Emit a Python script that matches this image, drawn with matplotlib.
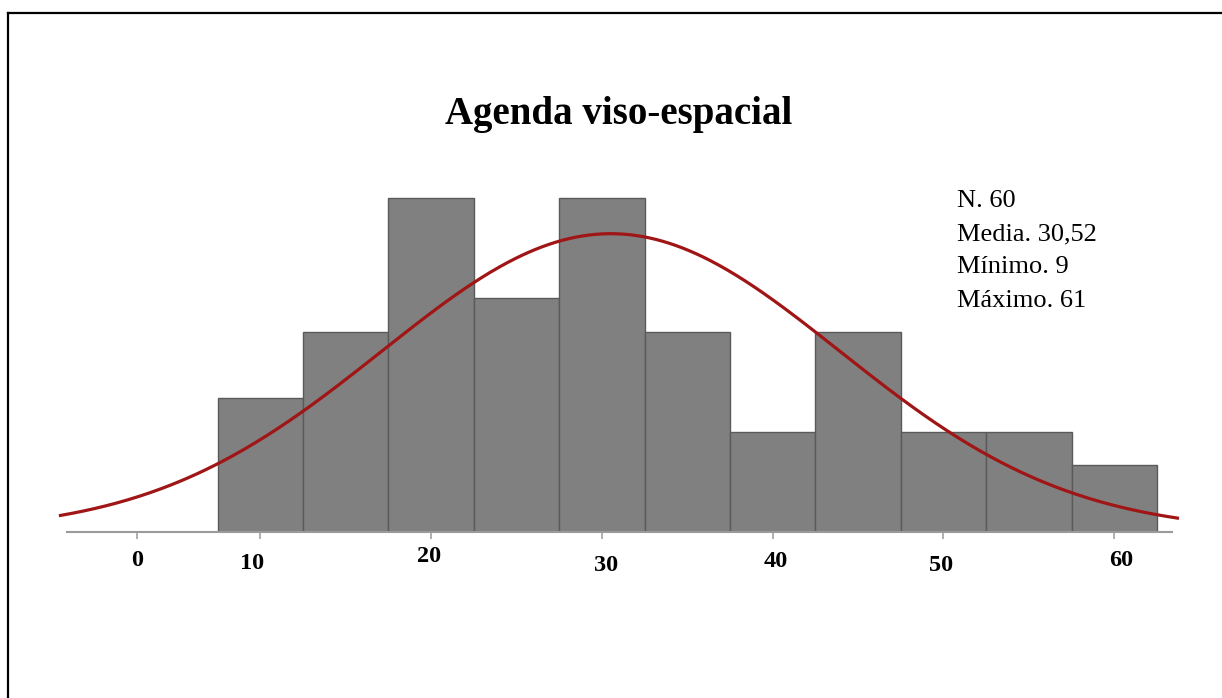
"""
Histograma de la agenda viso-espacial con curva normal ajustada
"""
import numpy as np
import matplotlib
matplotlib.use("Agg")
import matplotlib.pyplot as plt
from matplotlib.lines import Line2D
from matplotlib.transforms import ScaledTranslation

# Datos
bin_edges = [7.5, 12.5, 17.5, 22.5, 27.5, 32.5, 37.5, 42.5, 47.5, 52.5, 57.5, 62.5]
counts = [4, 6, 10, 7, 10, 6, 3, 6, 3, 3, 2]
n_total = 60
media = 30.52
desv = 13.4
minimo = 9
maximo = 61
tick_pos = [2.8, 10, 20, 30, 40, 50, 60]
tick_labels = ["0", "10", "20", "30", "40", "50", "60"]
titulo = "Agenda viso-espacial"
stats_lines = [f"N. {n_total}", "Media. 30,52", f"Mínimo. {minimo}", f"Máximo. {maximo}"]

W, H = 1222, 698
SERIF = ["Liberation Serif", "DejaVu Serif"]


def px_x(x):
    return x / W


def px_y(y):
    return 1 - y / H


fig = plt.figure(figsize=(W / 100, H / 100), dpi=100)
ax = fig.add_axes([px_x(40), px_y(532), 1140 / W, 382 / H])

# Barras del histograma
lefts = np.array(bin_edges[:-1])
widths = np.diff(bin_edges)
ax.bar(lefts, counts, width=widths, align="edge", color="#808080",
       edgecolor="#5a5a5a", linewidth=1.0, zorder=2)

# Curva normal ajustada
xs = np.linspace(-1.7, 63.7, 500)
bw = widths[0]
ys = n_total * bw / (desv * np.sqrt(2 * np.pi)) * np.exp(-0.5 * ((xs - media) / desv) ** 2)
ax.plot(xs, ys, color="#a01515", linewidth=2.3, zorder=3)

ax.set_xlim(-2.9, 63.85)
ax.set_ylim(0, 382 / 33.4)

for s in ["top", "right", "left"]:
    ax.spines[s].set_visible(False)
ax.spines["bottom"].set_bounds(-1.32, 63.4)
ax.spines["bottom"].set_color("#9a9a9a")
ax.spines["bottom"].set_linewidth(1.5)
ax.set_yticks([])

ax.set_xticks(tick_pos)
ax.set_xticklabels(tick_labels, fontfamily=SERIF, fontweight="bold", fontsize=17.5)
ax.tick_params(axis="x", direction="out", length=5, width=1.1, color="#9a9a9a", pad=9)

# pequeños desplazamientos de las etiquetas como en la imagen original
dx_px = [0, -8, -2, 4, 3, -2, 7]
dy_px = [-1, 2, -5, 4, 0, 4, -1]
for lab, dx, dy in zip(ax.get_xticklabels(), dx_px, dy_px):
    lab.set_transform(lab.get_transform() + ScaledTranslation(dx / 100, -dy / 100, fig.dpi_scale_trans))

# Titulo y estadisticos
fig.text(px_x(619), px_y(124), titulo, ha="center", va="baseline",
         fontfamily=SERIF, fontweight="bold", fontsize=28)
baselines = [206.7, 240, 272.7, 306.7]
for line, yb in zip(stats_lines, baselines):
    fig.text(px_x(957), px_y(yb), line, ha="left", va="baseline",
             fontfamily=SERIF, fontsize=19)

# Marco exterior (izquierda y arriba)
fig.add_artist(Line2D([px_x(8), px_x(8)], [0, px_y(12.5)], color="black", linewidth=1.6))
fig.add_artist(Line2D([px_x(8), 1], [px_y(12.5), px_y(12.5)], color="black", linewidth=1.6))

fig.savefig("out.png", dpi=100)
